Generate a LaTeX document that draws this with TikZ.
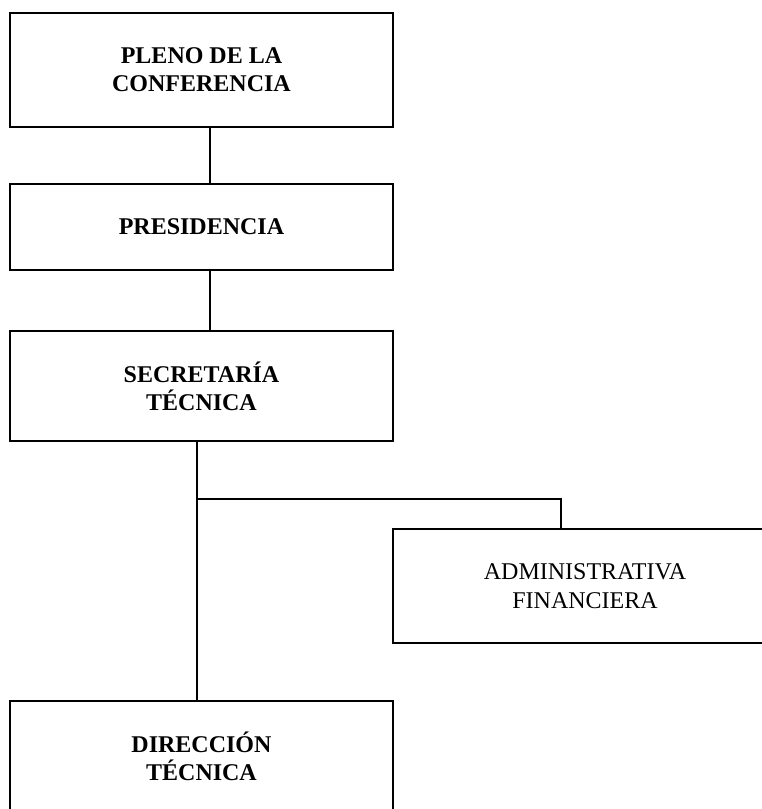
\documentclass[tikz,border=0pt]{standalone}
\usepackage{fontspec}
\setmainfont{Liberation Serif}

\tikzstyle{orgbox} = [rectangle, minimum width=383pt, text centered, align=center, draw=black, line width=1.3pt, font=\fontsize{24}{28}\selectfont\bfseries]
\tikzstyle{orgplain} = [rectangle, minimum width=384pt, text centered, align=center, draw=black, line width=1.3pt, font=\fontsize{24}{29}\selectfont]
\tikzstyle{line} = [line width=1.3pt]

\begin{document}
\begin{tikzpicture}[x=1pt, y=1pt, node distance=157pt]
\path[use as bounding box, clip] (0,0) rectangle (762,809);

\node (pleno) [orgbox, minimum height=114pt] at (201.5,739) {PLENO DE LA\\CONFERENCIA};
\node (presidencia) [orgbox, minimum height=86pt, below of=pleno] {PRESIDENCIA};
\node (secretaria) [orgbox, minimum height=110pt, below of=presidencia, node distance=159pt] {SECRETARÍA\\TÉCNICA};
\node (direccion) [orgbox, minimum height=110pt, below of=secretaria, node distance=370pt] {DIRECCIÓN\\TÉCNICA};
\node (admin) [orgplain, minimum height=114pt] at (585,223) {ADMINISTRATIVA\\FINANCIERA};
\coordinate (branch) at (197,310);

\draw [line] ([xshift=8.5pt]pleno.south) -- ([xshift=8.5pt]presidencia.north);
\draw [line] ([xshift=8.5pt]presidencia.south) -- ([xshift=8.5pt]secretaria.north);
\draw [line] ([xshift=-4.5pt]secretaria.south) -- ([xshift=-4.5pt]direccion.north);
\draw [line] (branch) -| ([xshift=-24pt]admin.north);
\end{tikzpicture}
\end{document}
